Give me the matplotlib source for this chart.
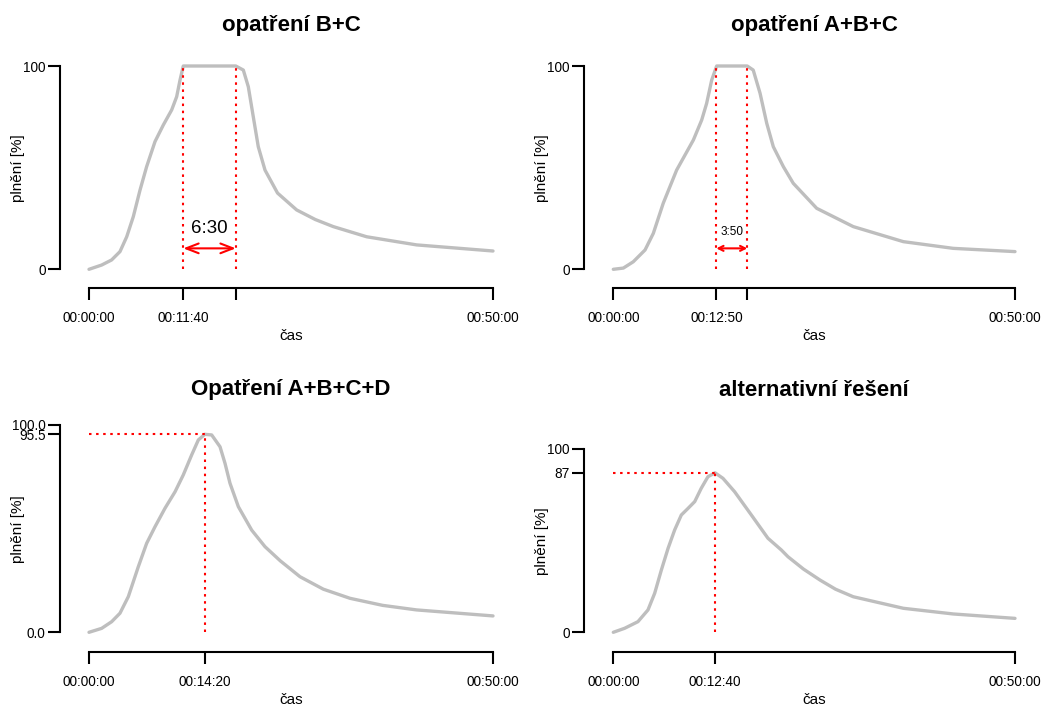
import numpy as np
import matplotlib.pyplot as plt

plt.rcParams['font.family'] = ['Liberation Sans', 'DejaVu Sans']

W, H = 1046, 706

# filling curves: time [s], filling [%]
t_bc = [0, 94, 168, 230, 280, 329, 379, 428, 490, 552, 614, 651, 676, 700,
        1090, 1146, 1183, 1220, 1257, 1307, 1400, 1542, 1680, 1814, 2062, 2433, 3000]
v_bc = [0, 2.1, 4.6, 8.7, 16, 25.9, 39, 50.5, 62.8, 71, 78.4, 84.9, 93.1, 100,
        100, 98, 89.8, 75, 60.3, 48.8, 37.5, 29.2, 24.5, 21, 16, 12, 9.0]

t_abc = [0, 75, 149, 237, 299, 373, 473, 598, 660, 697, 735, 772,
         1000, 1045, 1096, 1146, 1195, 1270, 1344, 1519, 1792, 2166, 2539, 3000]
v_abc = [0, 0.6, 3.7, 9.5, 17.7, 32.5, 48.8, 63.6, 73.4, 81.6, 93.1, 100,
         100, 98, 86.6, 71.8, 60.3, 50.5, 42.3, 30, 21, 13.6, 10.3, 8.7]

t_abcd = [0, 94, 168, 230, 292, 366, 428, 490, 564, 639, 700, 762, 812, 860,
          911, 973, 1010, 1047, 1109, 1208, 1307, 1420, 1567, 1740, 1938, 2180, 2432, 3000]
v_abcd = [0, 1.9, 5.1, 9.2, 17.2, 31.6, 42.9, 50.9, 59.8, 67.8, 75.9, 85.5, 92.8, 95.5,
          95.2, 89.5, 81.5, 71.9, 60.6, 49.3, 41.3, 34.5, 26.8, 20.8, 16.4, 13, 10.8, 7.9]

t_alt = [0, 85, 184, 259, 309, 359, 409, 458, 508, 558, 608, 657, 707, 760,
         819, 906, 1031, 1155, 1255, 1305, 1420, 1544, 1660, 1792, 2166, 2539, 3000]
v_alt = [0, 2.2, 5.8, 12.2, 21.3, 34, 45.8, 55.8, 64, 67.6, 71.3, 78.6, 84.9, 87,
         84, 76.7, 64, 51.3, 44.9, 41.2, 34.5, 28.5, 23.5, 19.4, 13.1, 10, 7.6]

# marked times
full_bc = (700, 1090)     # 00:11:40 + 6:30
full_abc = (770, 1000)    # 00:12:50 + 3:50
peak_abcd = (860, 95.5)   # 00:14:20
peak_alt = (760, 87)      # 00:12:40

T_END = 3000


def hms(s):
    return f"{s // 3600:02d}:{s % 3600 // 60:02d}:{s % 60:02d}"


def mmss(s):
    return f"{s // 60}:{s % 60:02d}"


fig = plt.figure(figsize=(W / 100, H / 100), dpi=100)


def make_ax(px_t0, px_tend, py_v0, py_v100, axis_x, axis_y, ylab_x, xlab_y, title_y, title):
    # place axes so that data maps onto given pixel positions
    sx = (px_tend - px_t0) / T_END
    sy = (py_v0 - py_v100) / 100
    xl = (-0.04 * T_END, 1.04 * T_END)
    yl = (-4, 104)
    left = px_t0 + xl[0] * sx
    right = px_t0 + xl[1] * sx
    bot = py_v0 - yl[0] * sy
    top = py_v0 - yl[1] * sy
    w, h = right - left, bot - top
    ax = fig.add_axes([left / W, 1 - bot / H, w / W, h / H])
    ax.set_xlim(*xl)
    ax.set_ylim(*yl)
    for s in ('top', 'right'):
        ax.spines[s].set_visible(False)
    ax.spines['left'].set_position(('outward', (left - axis_x) * 0.72))
    ax.spines['bottom'].set_position(('outward', (axis_y - bot) * 0.72))
    ax.spines['left'].set_bounds(0, 100)
    ax.spines['bottom'].set_bounds(0, T_END)
    for s in ('left', 'bottom'):
        ax.spines[s].set_linewidth(1.5)
    ax.tick_params(axis='both', length=8.5, width=1.5, labelsize=9.8)
    ax.tick_params(axis='x', pad=7.5)
    ax.tick_params(axis='y', pad=2)
    ax.set_xlabel('čas', fontsize=11, va='center')
    ax.set_ylabel('plnění [%]', fontsize=11, va='center')
    ax.xaxis.set_label_coords(0.5, (bot - xlab_y) / h)
    ax.yaxis.set_label_coords((ylab_x - left) / w, 0.5)
    ax.patch.set_visible(False)
    fig.text((left + w / 2) / W, 1 - title_y / H, title, ha='center', va='center',
             fontsize=16, fontweight='bold')
    return ax


red = dict(color='red', lw=1.5, linestyle=(0, (1.2, 2.2)))
gray = dict(color='#bebebe', lw=2.4, solid_joinstyle='round', solid_capstyle='round')

# top left
ax1 = make_ax(89, 493, 269.3, 66, 60.3, 288.3, 18, 336, 25, 'opatření B+C')
ax1.plot(t_bc, v_bc, **gray)
for t in full_bc:
    ax1.plot([t, t], [0, 100], **red)
ax1.annotate('', xy=(full_bc[0], 10.3), xytext=(full_bc[1], 10.3),
             arrowprops=dict(arrowstyle='<->,head_length=0.9,head_width=0.35',
                             color='red', lw=1.5, shrinkA=0, shrinkB=0))
ax1.text(sum(full_bc) / 2, 20, mmss(full_bc[1] - full_bc[0]),
         ha='center', va='center', fontsize=13.5)
ax1.set_xticks([0, full_bc[0], full_bc[1], T_END],
               [hms(0), hms(full_bc[0]), '', hms(T_END)])
ax1.set_yticks([0, 100], ['0', '100'])

# top right
ax2 = make_ax(613.3, 1015, 269.3, 66, 584.3, 288.3, 542, 336, 25, 'opatření A+B+C')
ax2.plot(t_abc, v_abc, **gray)
for t in full_abc:
    ax2.plot([t, t], [0, 100], **red)
ax2.annotate('', xy=(full_abc[0], 10.3), xytext=(full_abc[1], 10.3),
             arrowprops=dict(arrowstyle='<->,head_length=0.35,head_width=0.18',
                             color='red', lw=1.5, shrinkA=0, shrinkB=0))
ax2.text(sum(full_abc) / 2, 18.5, mmss(full_abc[1] - full_abc[0]),
         ha='center', va='center', fontsize=8.5)
ax2.set_xticks([0, full_abc[0], full_abc[1], T_END],
               [hms(0), hms(full_abc[0]), '', hms(T_END)])
ax2.set_yticks([0, 100], ['0', '100'])

# bottom left
ax3 = make_ax(89, 493, 632.3, 425, 60.3, 652.3, 18, 700, 390, 'Opatření A+B+C+D')
ax3.plot(t_abcd, v_abcd, **gray)
ax3.plot([0, peak_abcd[0]], [peak_abcd[1]] * 2, **red)
ax3.plot([peak_abcd[0]] * 2, [0, peak_abcd[1]], **red)
ax3.set_xticks([0, peak_abcd[0], T_END], [hms(0), hms(peak_abcd[0]), hms(T_END)])
ax3.set_yticks([0, peak_abcd[1], 100], ['0.0', f'{peak_abcd[1]:.1f}', '100.0'])

# bottom right
ax4 = make_ax(613.3, 1015, 632.3, 449, 584.3, 652.3, 542, 700, 390, 'alternativní řešení')
ax4.plot(t_alt, v_alt, **gray)
ax4.plot([0, peak_alt[0]], [peak_alt[1]] * 2, **red)
ax4.plot([peak_alt[0]] * 2, [0, peak_alt[1]], **red)
ax4.set_xticks([0, peak_alt[0], T_END], [hms(0), hms(peak_alt[0]), hms(T_END)])
ax4.set_yticks([0, peak_alt[1], 100], ['0', f'{peak_alt[1]:.0f}', '100'])

fig.savefig('out.png', dpi=100)
